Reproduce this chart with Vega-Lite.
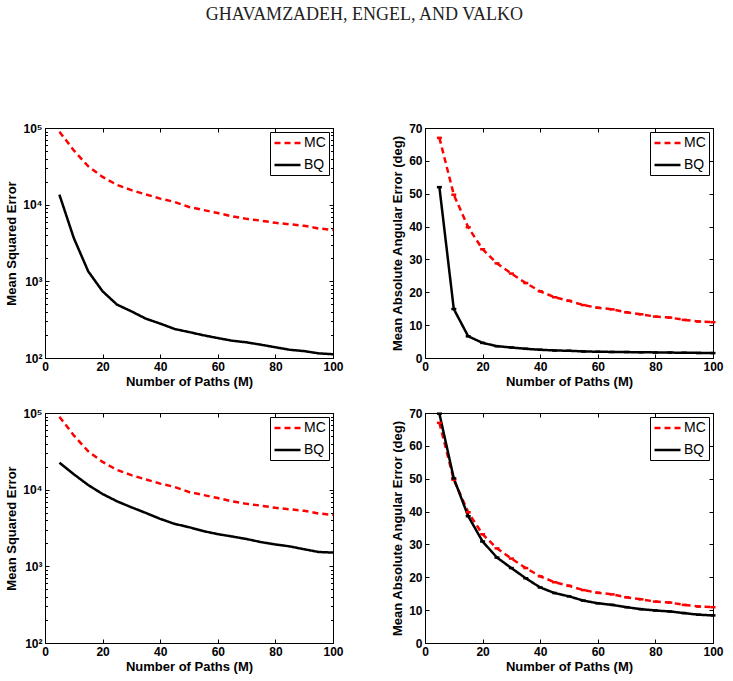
{
  "$schema": "https://vega.github.io/schema/vega-lite/v6.json",
  "background": "white",
  "padding": {"left": 5, "top": 5, "right": 5, "bottom": 5},
  "title": {"text": "GHAVAMZADEH, ENGEL, AND VALKO", "font": "Liberation Serif", "fontSize": 18, "fontWeight": "normal", "color": "#222222", "anchor": "middle", "frame": "bounds", "offset": 98},
  "datasets": {
    "mse1": [
      {"M": 5, "MC": 89600, "BQ": 13500}, {"M": 10, "MC": 51000, "BQ": 3670}, {"M": 15, "MC": 31700, "BQ": 1350}, {"M": 20, "MC": 23000, "BQ": 741},
      {"M": 25, "MC": 18100, "BQ": 497}, {"M": 30, "MC": 15500, "BQ": 406}, {"M": 35, "MC": 13600, "BQ": 326}, {"M": 40, "MC": 12000, "BQ": 281},
      {"M": 45, "MC": 10850, "BQ": 239}, {"M": 50, "MC": 9340, "BQ": 218}, {"M": 55, "MC": 8510, "BQ": 198}, {"M": 60, "MC": 7780, "BQ": 182},
      {"M": 65, "MC": 7040, "BQ": 168}, {"M": 70, "MC": 6530, "BQ": 160}, {"M": 75, "MC": 6190, "BQ": 149}, {"M": 80, "MC": 5800, "BQ": 138},
      {"M": 85, "MC": 5540, "BQ": 128}, {"M": 90, "MC": 5300, "BQ": 123}, {"M": 95, "MC": 4890, "BQ": 115}, {"M": 100, "MC": 4680, "BQ": 112}
    ],
    "mse2": [
      {"M": 5, "MC": 89600, "BQ": 22500}, {"M": 10, "MC": 51000, "BQ": 15900}, {"M": 15, "MC": 31700, "BQ": 11500}, {"M": 20, "MC": 23000, "BQ": 8770},
      {"M": 25, "MC": 18100, "BQ": 7050}, {"M": 30, "MC": 15500, "BQ": 5890}, {"M": 35, "MC": 13600, "BQ": 4970}, {"M": 40, "MC": 12000, "BQ": 4160},
      {"M": 45, "MC": 10850, "BQ": 3580}, {"M": 50, "MC": 9340, "BQ": 3240}, {"M": 55, "MC": 8510, "BQ": 2880}, {"M": 60, "MC": 7780, "BQ": 2630},
      {"M": 65, "MC": 7040, "BQ": 2450}, {"M": 70, "MC": 6530, "BQ": 2270}, {"M": 75, "MC": 6190, "BQ": 2070}, {"M": 80, "MC": 5800, "BQ": 1930},
      {"M": 85, "MC": 5540, "BQ": 1820}, {"M": 90, "MC": 5300, "BQ": 1670}, {"M": 95, "MC": 4890, "BQ": 1540}, {"M": 100, "MC": 4680, "BQ": 1510}
    ],
    "ang1": [
      {"M": 5, "MC": 67, "BQ": 52}, {"M": 10, "MC": 49.7, "BQ": 14.9}, {"M": 15, "MC": 39.8, "BQ": 6.6}, {"M": 20, "MC": 33.1, "BQ": 4.6},
      {"M": 25, "MC": 28.8, "BQ": 3.6}, {"M": 30, "MC": 25.7, "BQ": 3.2}, {"M": 35, "MC": 22.8, "BQ": 2.8}, {"M": 40, "MC": 20.3, "BQ": 2.5},
      {"M": 45, "MC": 18.5, "BQ": 2.3}, {"M": 50, "MC": 17.4, "BQ": 2.2}, {"M": 55, "MC": 16.1, "BQ": 2.0}, {"M": 60, "MC": 15.3, "BQ": 1.9},
      {"M": 65, "MC": 14.8, "BQ": 1.85}, {"M": 70, "MC": 13.9, "BQ": 1.8}, {"M": 75, "MC": 13.3, "BQ": 1.75}, {"M": 80, "MC": 12.6, "BQ": 1.7},
      {"M": 85, "MC": 12.3, "BQ": 1.65}, {"M": 90, "MC": 11.6, "BQ": 1.6}, {"M": 95, "MC": 11.1, "BQ": 1.55}, {"M": 100, "MC": 10.9, "BQ": 1.5}
    ],
    "ang2": [
      {"M": 5, "MC": 67, "BQ": 69.8}, {"M": 10, "MC": 49.7, "BQ": 50.1}, {"M": 15, "MC": 39.8, "BQ": 38.6}, {"M": 20, "MC": 33.1, "BQ": 30.9},
      {"M": 25, "MC": 28.8, "BQ": 26.0}, {"M": 30, "MC": 25.7, "BQ": 22.8}, {"M": 35, "MC": 22.8, "BQ": 19.7}, {"M": 40, "MC": 20.3, "BQ": 16.9},
      {"M": 45, "MC": 18.5, "BQ": 15.2}, {"M": 50, "MC": 17.4, "BQ": 14.2}, {"M": 55, "MC": 16.1, "BQ": 12.9}, {"M": 60, "MC": 15.3, "BQ": 12.1},
      {"M": 65, "MC": 14.8, "BQ": 11.6}, {"M": 70, "MC": 13.9, "BQ": 10.9}, {"M": 75, "MC": 13.3, "BQ": 10.3}, {"M": 80, "MC": 12.6, "BQ": 9.9},
      {"M": 85, "MC": 12.3, "BQ": 9.6}, {"M": 90, "MC": 11.6, "BQ": 9.1}, {"M": 95, "MC": 11.1, "BQ": 8.6}, {"M": 100, "MC": 10.9, "BQ": 8.4}
    ]
  },
  "columns": 2,
  "spacing": {"row": 55, "column": 92},
  "bounds": "flush",
  "resolve": {"scale": {"color": "independent", "strokeDash": "independent"}},
  "concat": [
    {
      "width": 288, "height": 230,
      "data": {"name": "mse1"},
      "transform": [{"fold": ["MC", "BQ"], "as": ["series", "value"]}],
      "layer": [
        {
          "mark": {"type": "line", "strokeWidth": 2.5, "clip": true},
          "encoding": {
            "x": {"field": "M", "type": "quantitative", "scale": {"domain": [0, 100], "nice": false}, "axis": {"values": [0, 20, 40, 60, 80, 100], "title": "Number of Paths (M)"}},
            "y": {"field": "value", "type": "quantitative", "scale": {"type": "log", "domain": [100, 100000], "nice": false}, "axis": {"values": [100, 1000, 10000, 100000], "labelExpr": "datum.value == 100 ? '10²' : datum.value == 1000 ? '10³' : datum.value == 10000 ? '10⁴' : '10⁵'", "title": "Mean Squared Error"}},
            "color": {"field": "series", "type": "nominal", "scale": {"domain": ["MC", "BQ"], "range": ["#ff0000", "#000000"]}, "legend": {"title": null, "orient": "top-right", "offset": 4}},
            "strokeDash": {"field": "series", "type": "nominal", "scale": {"domain": ["MC", "BQ"], "range": [[6, 4], [1, 0]]}, "legend": {"title": null, "orient": "top-right", "offset": 4}}
          }
        },
        {
          "mark": {"type": "point", "opacity": 0},
          "encoding": {
            "x": {"field": "M", "type": "quantitative", "axis": {"orient": "top", "labels": false, "title": null, "values": [0, 20, 40, 60, 80, 100]}},
            "y": {"field": "value", "type": "quantitative", "axis": {"orient": "right", "labels": false, "title": null, "values": [100, 1000, 10000, 100000]}}
          }
        },
        {
          "mark": {"type": "point", "opacity": 0},
          "encoding": {
            "x": {"field": "M", "type": "quantitative", "axis": null},
            "y": {"field": "value", "type": "quantitative", "axis": {"orient": "left", "labels": false, "title": null, "domain": false, "tickSize": -2.5, "values": [200, 300, 400, 500, 600, 700, 800, 900, 2000, 3000, 4000, 5000, 6000, 7000, 8000, 9000, 20000, 30000, 40000, 50000, 60000, 70000, 80000, 90000]}}
          }
        },
        {
          "mark": {"type": "point", "opacity": 0},
          "encoding": {
            "x": {"field": "M", "type": "quantitative", "axis": null},
            "y": {"field": "value", "type": "quantitative", "axis": {"orient": "right", "labels": false, "title": null, "domain": false, "tickSize": -2.5, "values": [200, 300, 400, 500, 600, 700, 800, 900, 2000, 3000, 4000, 5000, 6000, 7000, 8000, 9000, 20000, 30000, 40000, 50000, 60000, 70000, 80000, 90000]}}
          }
        }
      ],
      "resolve": {"axis": {"x": "independent", "y": "independent"}}
    },
    {
      "width": 288, "height": 230,
      "data": {"name": "ang1"},
      "transform": [{"fold": ["MC", "BQ"], "as": ["series", "value"]}],
      "layer": [
        {
          "mark": {"type": "line", "strokeWidth": 2.5, "clip": true},
          "encoding": {
            "x": {"field": "M", "type": "quantitative", "scale": {"domain": [0, 100], "nice": false}, "axis": {"values": [0, 20, 40, 60, 80, 100], "title": "Number of Paths (M)"}},
            "y": {"field": "value", "type": "quantitative", "scale": {"domain": [0, 70], "nice": false}, "axis": {"values": [0, 10, 20, 30, 40, 50, 60, 70], "title": "Mean Absolute Angular Error (deg)"}},
            "color": {"field": "series", "type": "nominal", "scale": {"domain": ["MC", "BQ"], "range": ["#ff0000", "#000000"]}, "legend": {"title": null, "orient": "top-right", "offset": 4}},
            "strokeDash": {"field": "series", "type": "nominal", "scale": {"domain": ["MC", "BQ"], "range": [[6, 4], [1, 0]]}, "legend": {"title": null, "orient": "top-right", "offset": 4}}
          }
        },
        {
          "transform": [{"filter": "datum.series == 'MC'"}],
          "mark": {"type": "tick", "orient": "horizontal", "size": 5, "thickness": 2.5, "color": "#ff0000", "opacity": 1},
          "encoding": {"x": {"field": "M", "type": "quantitative", "axis": null}, "y": {"field": "value", "type": "quantitative", "axis": null}}
        },
        {
          "transform": [{"filter": "datum.series == 'BQ'"}],
          "mark": {"type": "tick", "orient": "horizontal", "size": 5, "thickness": 2.5, "color": "#000000", "opacity": 1},
          "encoding": {"x": {"field": "M", "type": "quantitative", "axis": null}, "y": {"field": "value", "type": "quantitative", "axis": null}}
        },
        {
          "mark": {"type": "point", "opacity": 0},
          "encoding": {
            "x": {"field": "M", "type": "quantitative", "axis": {"orient": "top", "labels": false, "title": null, "values": [0, 20, 40, 60, 80, 100]}},
            "y": {"field": "value", "type": "quantitative", "axis": {"orient": "right", "labels": false, "title": null, "values": [0, 10, 20, 30, 40, 50, 60, 70]}}
          }
        }
      ],
      "resolve": {"axis": {"x": "independent", "y": "independent"}}
    },
    {
      "width": 288, "height": 230,
      "data": {"name": "mse2"},
      "transform": [{"fold": ["MC", "BQ"], "as": ["series", "value"]}],
      "layer": [
        {
          "mark": {"type": "line", "strokeWidth": 2.5, "clip": true},
          "encoding": {
            "x": {"field": "M", "type": "quantitative", "scale": {"domain": [0, 100], "nice": false}, "axis": {"values": [0, 20, 40, 60, 80, 100], "title": "Number of Paths (M)"}},
            "y": {"field": "value", "type": "quantitative", "scale": {"type": "log", "domain": [100, 100000], "nice": false}, "axis": {"values": [100, 1000, 10000, 100000], "labelExpr": "datum.value == 100 ? '10²' : datum.value == 1000 ? '10³' : datum.value == 10000 ? '10⁴' : '10⁵'", "title": "Mean Squared Error"}},
            "color": {"field": "series", "type": "nominal", "scale": {"domain": ["MC", "BQ"], "range": ["#ff0000", "#000000"]}, "legend": {"title": null, "orient": "top-right", "offset": 4}},
            "strokeDash": {"field": "series", "type": "nominal", "scale": {"domain": ["MC", "BQ"], "range": [[6, 4], [1, 0]]}, "legend": {"title": null, "orient": "top-right", "offset": 4}}
          }
        },
        {
          "mark": {"type": "point", "opacity": 0},
          "encoding": {
            "x": {"field": "M", "type": "quantitative", "axis": {"orient": "top", "labels": false, "title": null, "values": [0, 20, 40, 60, 80, 100]}},
            "y": {"field": "value", "type": "quantitative", "axis": {"orient": "right", "labels": false, "title": null, "values": [100, 1000, 10000, 100000]}}
          }
        },
        {
          "mark": {"type": "point", "opacity": 0},
          "encoding": {
            "x": {"field": "M", "type": "quantitative", "axis": null},
            "y": {"field": "value", "type": "quantitative", "axis": {"orient": "left", "labels": false, "title": null, "domain": false, "tickSize": -2.5, "values": [200, 300, 400, 500, 600, 700, 800, 900, 2000, 3000, 4000, 5000, 6000, 7000, 8000, 9000, 20000, 30000, 40000, 50000, 60000, 70000, 80000, 90000]}}
          }
        },
        {
          "mark": {"type": "point", "opacity": 0},
          "encoding": {
            "x": {"field": "M", "type": "quantitative", "axis": null},
            "y": {"field": "value", "type": "quantitative", "axis": {"orient": "right", "labels": false, "title": null, "domain": false, "tickSize": -2.5, "values": [200, 300, 400, 500, 600, 700, 800, 900, 2000, 3000, 4000, 5000, 6000, 7000, 8000, 9000, 20000, 30000, 40000, 50000, 60000, 70000, 80000, 90000]}}
          }
        }
      ],
      "resolve": {"axis": {"x": "independent", "y": "independent"}}
    },
    {
      "width": 288, "height": 230,
      "data": {"name": "ang2"},
      "transform": [{"fold": ["MC", "BQ"], "as": ["series", "value"]}],
      "layer": [
        {
          "mark": {"type": "line", "strokeWidth": 2.5, "clip": true},
          "encoding": {
            "x": {"field": "M", "type": "quantitative", "scale": {"domain": [0, 100], "nice": false}, "axis": {"values": [0, 20, 40, 60, 80, 100], "title": "Number of Paths (M)"}},
            "y": {"field": "value", "type": "quantitative", "scale": {"domain": [0, 70], "nice": false}, "axis": {"values": [0, 10, 20, 30, 40, 50, 60, 70], "title": "Mean Absolute Angular Error (deg)"}},
            "color": {"field": "series", "type": "nominal", "scale": {"domain": ["MC", "BQ"], "range": ["#ff0000", "#000000"]}, "legend": {"title": null, "orient": "top-right", "offset": 4}},
            "strokeDash": {"field": "series", "type": "nominal", "scale": {"domain": ["MC", "BQ"], "range": [[6, 4], [1, 0]]}, "legend": {"title": null, "orient": "top-right", "offset": 4}}
          }
        },
        {
          "transform": [{"filter": "datum.series == 'MC'"}],
          "mark": {"type": "tick", "orient": "horizontal", "size": 5, "thickness": 2.5, "color": "#ff0000", "opacity": 1},
          "encoding": {"x": {"field": "M", "type": "quantitative", "axis": null}, "y": {"field": "value", "type": "quantitative", "axis": null}}
        },
        {
          "transform": [{"filter": "datum.series == 'BQ'"}],
          "mark": {"type": "tick", "orient": "horizontal", "size": 5, "thickness": 2.5, "color": "#000000", "opacity": 1},
          "encoding": {"x": {"field": "M", "type": "quantitative", "axis": null}, "y": {"field": "value", "type": "quantitative", "axis": null}}
        },
        {
          "mark": {"type": "point", "opacity": 0},
          "encoding": {
            "x": {"field": "M", "type": "quantitative", "axis": {"orient": "top", "labels": false, "title": null, "values": [0, 20, 40, 60, 80, 100]}},
            "y": {"field": "value", "type": "quantitative", "axis": {"orient": "right", "labels": false, "title": null, "values": [0, 10, 20, 30, 40, 50, 60, 70]}}
          }
        }
      ],
      "resolve": {"axis": {"x": "independent", "y": "independent"}}
    }
  ],
  "config": {
    "view": {"stroke": "black", "strokeWidth": 1},
    "axis": {
      "grid": false,
      "domainColor": "black", "domainWidth": 1,
      "tickColor": "black", "tickWidth": 1, "tickSize": -4,
      "labelFont": "Liberation Sans", "labelFontWeight": "bold", "labelFontSize": 12, "labelColor": "black", "labelPadding": 7, "labelFlush": false,
      "titleFont": "Liberation Sans", "titleFontWeight": "bold", "titleFontSize": 13, "titleColor": "black", "titlePadding": 4
    },
    "axisX": {"titlePadding": 3},
    "legend": {
      "symbolType": "M-1,0H3", "symbolSize": 169, "symbolStrokeWidth": 2.5,
      "labelFont": "Liberation Sans", "labelFontSize": 14, "labelColor": "black", "labelOffset": 15,
      "strokeColor": "black", "fillColor": "white", "padding": 3, "rowPadding": 7, "cornerRadius": 0
    }
  }
}
